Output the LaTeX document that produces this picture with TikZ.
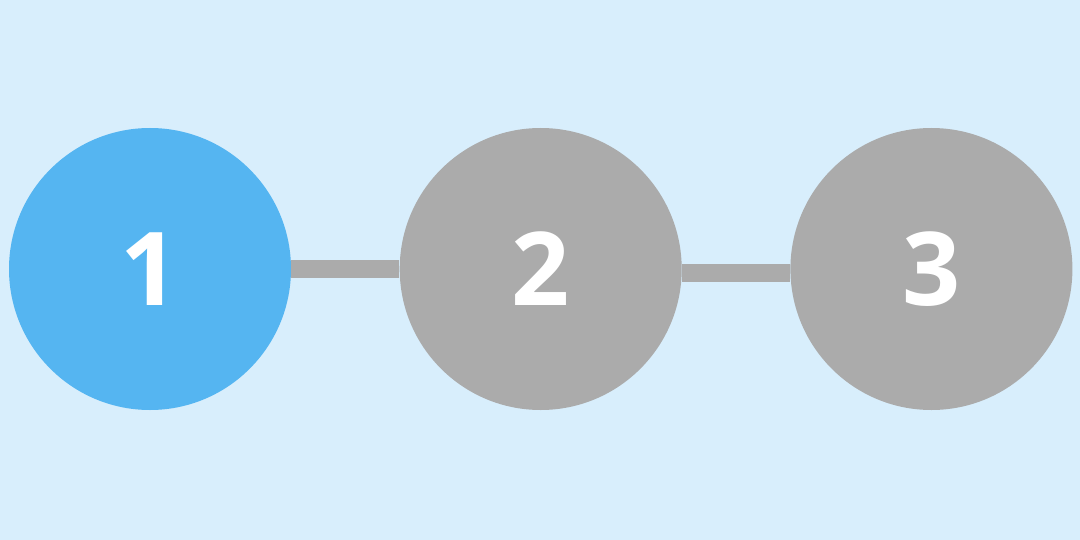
\documentclass[tikz,border=0pt]{standalone}
\usepackage{fontspec}
\setmainfont{Open Sans}
\usetikzlibrary{positioning}
\definecolor{sky}{HTML}{D8EEFC}
\definecolor{active}{HTML}{55B5F1}
\definecolor{idle}{HTML}{ABABAB}
\tikzset{
  stepdot/.style={circle,fill=idle,minimum size=5.64cm,inner sep=0pt,text=white,
    font=\fontsize{58}{58}\selectfont\bfseries},
  activedot/.style={stepdot,fill=active},
  link/.style={line width=0.36cm,draw=idle}
}
\begin{document}
\begin{tikzpicture}
    \fill[sky] (0,0) rectangle (21.6,-10.8);
    \useasboundingbox (0,0) rectangle (21.6,-10.8);
    \node[activedot] (one) at (3.0,-5.38) {1};
    \node[stepdot,right=2.16cm of one] (two) {2};
    \node[stepdot,right=2.16cm of two] (three) {3};
    \draw[link] (one.east) -- (two.west);
    \draw[link] ([yshift=-0.07cm]two.east) -- ([yshift=-0.07cm]three.west);
  \end{tikzpicture}
\end{document}
